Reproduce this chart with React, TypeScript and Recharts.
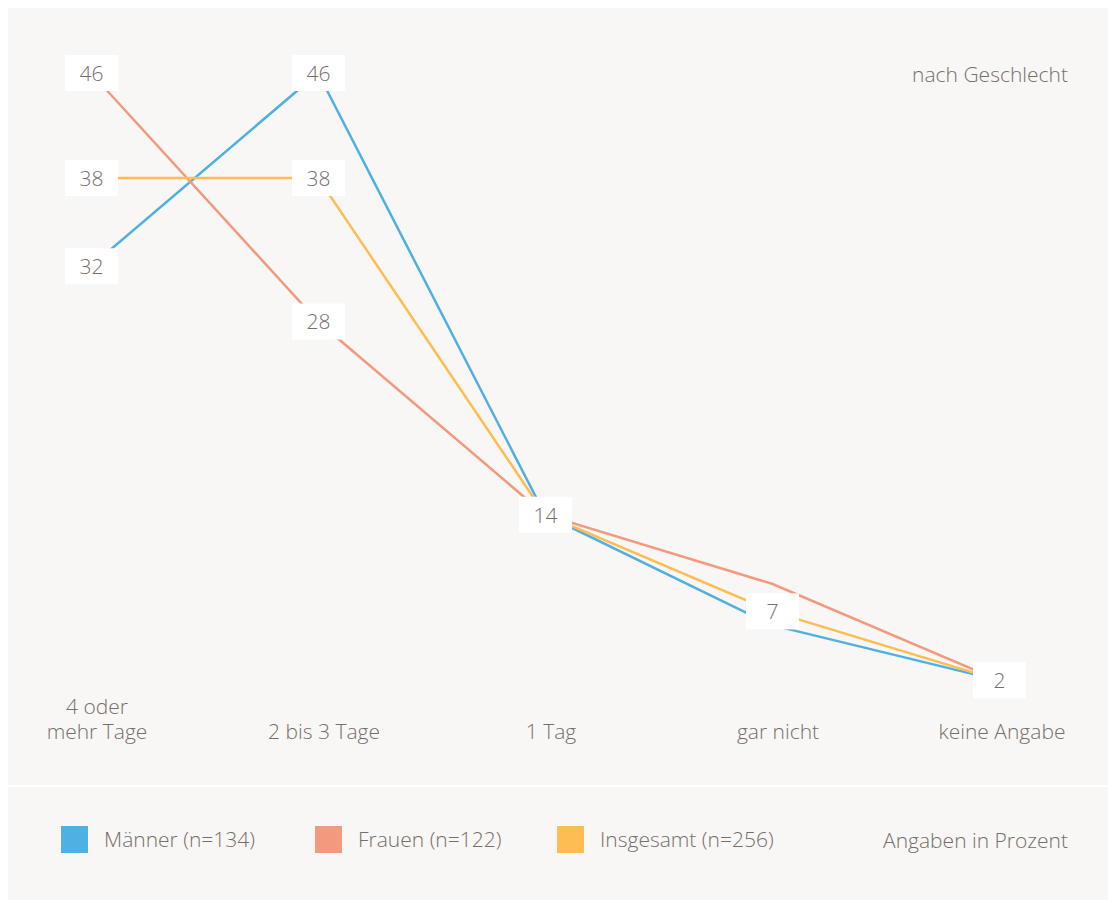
import { LineChart, Line, XAxis, YAxis, LabelList } from "recharts";

const categories = ["4 oder\nmehr Tage", "2 bis 3 Tage", "1 Tag", "gar nicht", "keine Angabe"];
const maenner = [32, 46, 14, 6, 2];
const frauen = [46, 28, 14, 9, 2];
const insgesamt = [38.4, 38.4, 14, 7, 2];

// which points carry a value box
const maennerLabeled = [0, 1];
const frauenLabeled = [0, 1];
const insgesamtLabeled = [0, 1, 2, 3, 4];

const series = [
  { key: "maenner", name: "Männer (n=134)", color: "#4fb0e3" },
  { key: "frauen", name: "Frauen (n=122)", color: "#f39a7e" },
  { key: "insgesamt", name: "Insgesamt (n=256)", color: "#fdbd52" },
];

const data = categories.map((c, i) => ({
  cat: c,
  maenner: maenner[i],
  frauen: frauen[i],
  insgesamt: insgesamt[i],
}));

const FONT = "'Open Sans', sans-serif";
const TEXT = "#776e6a";
const FS = 21;

const valueBox = (shown: number[]) => (props: any) => {
  const { x, y, value, index } = props;
  if (!shown.includes(index)) return null;
  return (
    <g>
      <rect x={x - 26} y={y - 18} width={53} height={36} fill="#ffffff" />
      <text x={x + 0.5} y={y + 8} textAnchor="middle" fontSize={FS} fill={TEXT} fontFamily={FONT} fontWeight={300}>
        {Math.round(value)}
      </text>
    </g>
  );
};

const CatTick = (props: any) => {
  const { x, y, payload, index } = props;
  const lines = String(payload.value).split("\n");
  const dx = index === categories.length - 1 ? 3 : 6;
  return (
    <text x={x + dx} y={y} textAnchor="middle" fontSize={FS} fill={TEXT} fontFamily={FONT} fontWeight={300}>
      {lines.map((l, i) => (
        <tspan key={i} x={x + dx} y={y + 23 - (lines.length - 1 - i) * 25}>
          {l}
        </tspan>
      ))}
    </text>
  );
};

const legendWidths = [254, 242, 260];

export default function App() {
  return (
    <div style={{ position: "relative", width: 1104, height: 892, background: "#f8f7f5", fontFamily: FONT, color: TEXT }}>
      <LineChart width={1104} height={780} data={data} margin={{ top: 65, right: 113, left: 83, bottom: 20 }}>
        <XAxis dataKey="cat" axisLine={false} tickLine={false} height={60} interval={0} tick={<CatTick />} padding={{ left: 0, right: 0 }} />
        <YAxis hide domain={[0, 46]} />
        <Line dataKey="maenner" stroke={series[0].color} strokeWidth={2.5} dot={false} isAnimationActive={false}>
          <LabelList dataKey="maenner" content={valueBox(maennerLabeled)} />
        </Line>
        <Line dataKey="frauen" stroke={series[1].color} strokeWidth={2.5} dot={false} isAnimationActive={false}>
          <LabelList dataKey="frauen" content={valueBox(frauenLabeled)} />
        </Line>
        <Line dataKey="insgesamt" stroke={series[2].color} strokeWidth={2.5} dot={false} isAnimationActive={false}>
          <LabelList dataKey="insgesamt" content={valueBox(insgesamtLabeled)} />
        </Line>
      </LineChart>
      <div style={{ position: "absolute", right: 44, top: 52, fontSize: FS, fontWeight: 300 }}>nach Geschlecht</div>
      <div style={{ position: "absolute", left: 0, right: 0, top: 777, height: 2, background: "#ffffff" }} />
      <div style={{ position: "absolute", left: 53, top: 817, display: "flex", alignItems: "center", fontSize: FS, fontWeight: 300 }}>
        {series.map((s, i) => (
          <div key={s.key} style={{ display: "flex", alignItems: "center", width: legendWidths[i] }}>
            <div style={{ width: 27, height: 27, background: s.color, marginRight: 16, flexShrink: 0 }} />
            <span style={{ whiteSpace: "nowrap" }}>{s.name}</span>
          </div>
        ))}
      </div>
      <div style={{ position: "absolute", right: 44, top: 818, fontSize: FS, fontWeight: 300 }}>Angaben in Prozent</div>
    </div>
  );
}
